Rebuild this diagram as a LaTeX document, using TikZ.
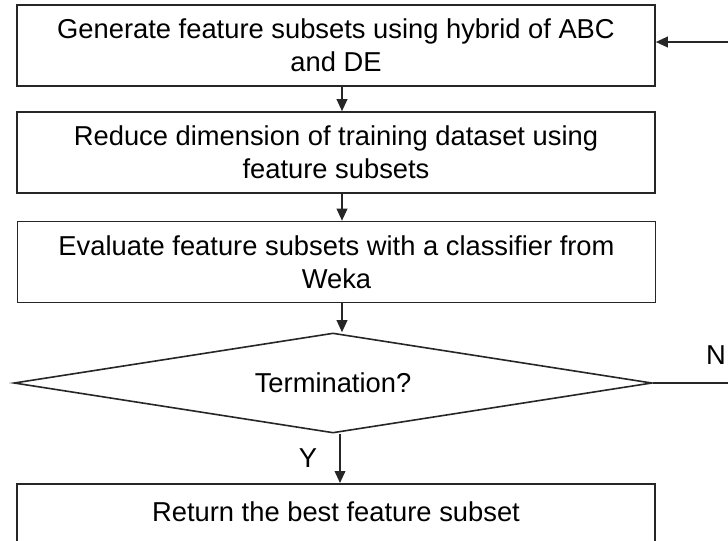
\documentclass[tikz,border=0pt]{standalone}
\usepackage{fontspec}
\setmainfont{Liberation Sans}
\usetikzlibrary{shapes.geometric,arrows.meta}
\begin{document}
\begin{tikzpicture}[x=0.75pt,y=-0.75pt,
  every node/.style={font=\fontsize{20.5}{24.5}\selectfont, text=black},
  procbox/.style={draw=black!85, line width=1.2pt, minimum width=478.5pt, minimum height=60.75pt, align=center, inner sep=2pt},
  decbox/.style={draw=black!85, line width=1.2pt, shape=diamond, aspect=6.4, minimum width=478.5pt, minimum height=75pt, inner sep=0pt},
  flow/.style={draw=black!85, line width=1.2pt, -{Triangle[length=9pt,width=8pt]}},
  plainline/.style={draw=black!85, line width=1.2pt}]
\useasboundingbox (0,0) rectangle (728,540);
\node[procbox] (b1) at (336,45.5) {Generate feature subsets using hybrid of ABC\\and DE};
\node[procbox] (b2) at (336,152.5) {Reduce dimension of training dataset using\\feature subsets};
\node[procbox] (b3) at (336.5,262) {Evaluate feature subsets with a classifier from\\Weka};
\node[decbox] (d) at (333,383) {Termination?};
\node[procbox, anchor=north] (b5) at (336,483) {};
\node (t5) at (336,512) {Return the best feature subset};
\node (lN) at (716,355) {N};
\node (lY) at (308,458) {Y};
\coordinate (r1) at (728,42);
\coordinate (r2) at (728,383);
\draw[flow] (b1.south -| 342,0) -- (b2.north -| 342,0);
\draw[flow] (b2.south -| 342,0) -- (b3.north -| 342,0);
\draw[flow] (b3.south -| 342,0) -- (d.north -| 342,0);
\draw[flow] (d.south -| 340,0) -- (b5.north -| 340,0);
\draw[plainline] (d.east) -- (r2);
\draw[flow] (r1) -- (r1 -| b1.east);
\end{tikzpicture}
\end{document}
